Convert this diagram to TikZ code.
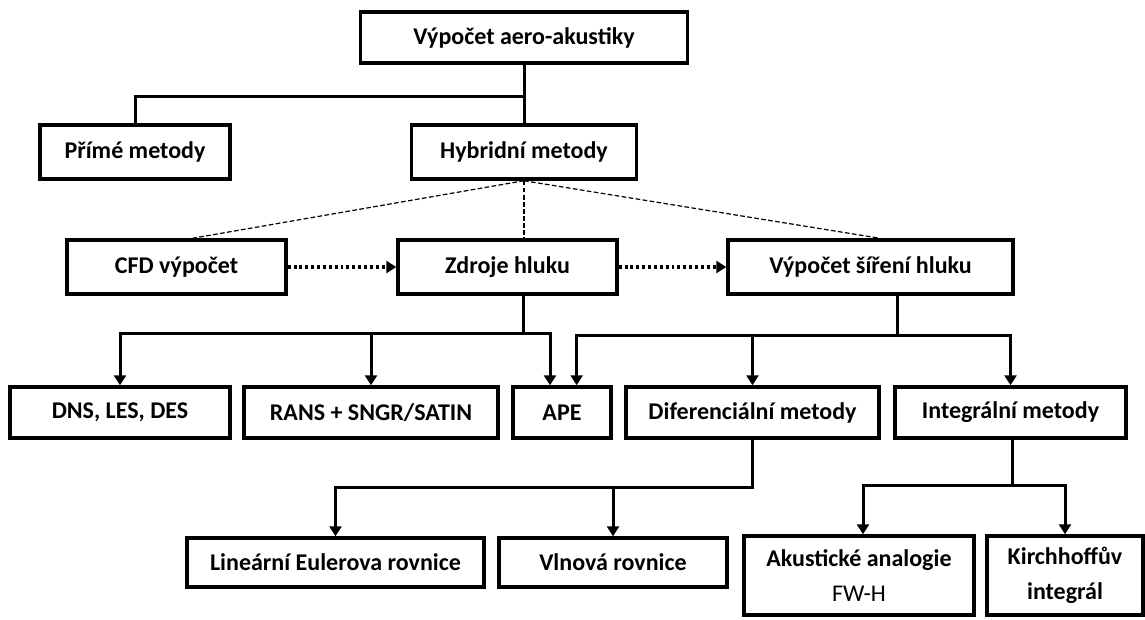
\documentclass[tikz,border=0pt]{standalone}
\usepackage{fontspec}
\setmainfont{Carlito}
\usetikzlibrary{arrows.meta}

\tikzset{every picture/.style={line width=0.75pt}}
\tikzset{
  box/.style={draw, line width=2.6pt, fill=white, inner sep=0pt, align=center,
    font=\fontsize{18}{26}\selectfont\bfseries, minimum height=40.5pt},
  lowbox/.style={box, minimum height=38.25pt},
  link/.style={line width=2.25pt},
  arr/.style={link, -{Triangle[length=7.5pt,width=9pt]}},
  dotarr/.style={line width=2.4pt, dash pattern={on 2.2pt off 2.2pt}, -{Triangle[length=7.5pt,width=9pt]}},
  hint/.style={line width=0.9pt, dash pattern={on 3.5pt off 1.8pt}}
}

\begin{document}
\begin{tikzpicture}[x=0.75pt,y=0.75pt,yscale=-1,xscale=1]
	\useasboundingbox (0,0) rectangle (1145,619);

	% Boxes
	\node[box, minimum width=245.25pt, minimum height=38.25pt] (top) at (524,37.5) {Výpočet aero-akustiky};
	\node[box, minimum width=142.5pt] (prime) at (135,152) {Přímé metody};
	\node[box, minimum width=168.75pt] (hyb) at (524,152) {Hybridní metody};
	\node[box, minimum width=164.25pt] (cfd) at (176.5,267) {CFD výpočet};
	\node[box, minimum width=164.25pt] (zdroje) at (507.5,267) {Zdroje hluku};
	\node[box, minimum width=213.75pt] (sireni) at (870.5,267) {Výpočet šíření hluku};
	\node[lowbox, minimum width=165pt] (dns) at (120,412.5) {DNS, LES, DES};
	\node[lowbox, minimum width=190.5pt] (rans) at (371,412.5) {RANS + SNGR/SATIN};
	\node[lowbox, minimum width=73.5pt] (ape) at (562,412.5) {APE};
	\node[lowbox, minimum width=189.75pt] (dif) at (752.5,412.5) {Diferenciální metody};
	\node[lowbox, minimum width=173.25pt] (integ) at (1010.5,412.5) {Integrální metody};
	\node[box, minimum width=222.75pt, minimum height=36.75pt] (lin) at (335.5,562.5) {Lineární Eulerova rovnice};
	\node[box, minimum width=171pt, minimum height=36.75pt] (vln) at (613,562.5) {Vlnová rovnice};
	\node[box, minimum width=172.5pt, minimum height=59.25pt] (aku) at (859,575.5) {Akustické analogie\\\mdseries FW-H};
	\node[box, minimum width=117pt, minimum height=59.25pt] (kir) at (1065,575.5) {Kirchhoffův\\integrál};

	% Junctions
	\coordinate (j0) at (524,96);
	\coordinate (j1) at (523,333);
	\coordinate (j2) at (897,335);
	\coordinate (j3) at (752,487);
	\coordinate (j4) at (1012,485);

	% Top level
	\draw[link] (top.south) -- (j0) -| (prime.north);
	\draw[link] (j0) -- (hyb.north);

	% Dashed lines
	\draw[hint] (hyb.south) -- ([xshift=12pt]cfd.north);
	\draw[hint] (hyb.south) -- (hyb.south |- zdroje.north);
	\draw[hint] (hyb.south) -- ([xshift=7pt]sireni.north);

	% Dotted arrows
	\draw[dotarr] (cfd.east) -- (zdroje.west);
	\draw[dotarr] (zdroje.east) -- (sireni.west);

	% Sources
	\draw[link] (zdroje.south -| j1) -- (j1);
	\draw[arr] (j1) -| (dns.north);
	\draw[arr] (j1 -| rans) -- (rans.north);
	\draw[arr] (j1) -| ([xshift=-9pt]ape.north);

	% Propagation
	\draw[link] (sireni.south -| j2) -- (j2);
	\draw[arr] (j2) -| ([xshift=11pt]ape.north);
	\draw[arr] (j2 -| dif) -- (dif.north);
	\draw[arr] (j2) -| (integ.north);

	% Differential
	\draw[arr] (dif.south -| j3) -- (j3) -| (lin.north);
	\draw[arr] (j3 -| vln) -- (vln.north);

	% Integral
	\draw[arr] (integ.south -| j4) -- (j4) -| ([xshift=3pt]aku.north);
	\draw[arr] (j4) -| (kir.north);

\end{tikzpicture}
\end{document}
